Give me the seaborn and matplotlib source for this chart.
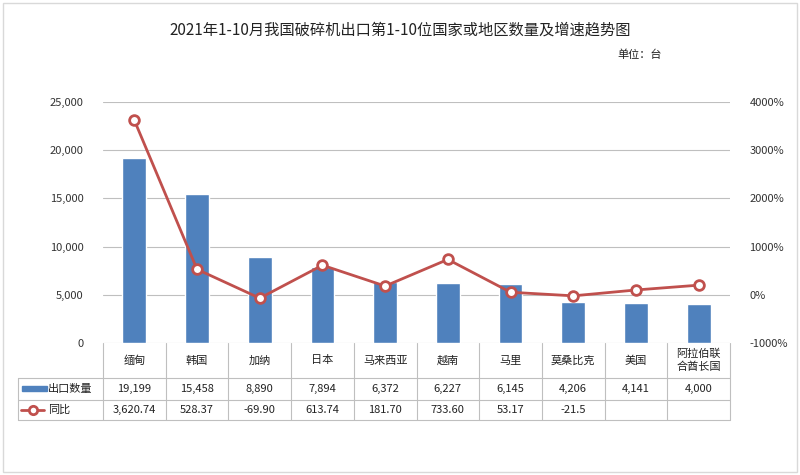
import matplotlib
matplotlib.use("Agg")
import matplotlib.pyplot as plt
import seaborn as sns
import pandas as pd
import numpy as np

countries = ["缅甸", "韩国", "加纳", "日本", "马来西亚", "越南", "马里", "莫桑比克", "美国", "阿拉伯联\n合酋长国"]
export_qty = [19199, 15458, 8890, 7894, 6372, 6227, 6145, 4206, 4141, 4000]
yoy = [3620.74, 528.37, -69.90, 613.74, 181.70, 733.60, 53.17, -21.5, 100.0, 200.0]
qty_labels = ["19,199", "15,458", "8,890", "7,894", "6,372", "6,227", "6,145", "4,206", "4,141", "4,000"]
yoy_labels = ["3,620.74", "528.37", "-69.90", "613.74", "181.70", "733.60", "53.17", "-21.5", "", ""]
left_ticks = [0, 5000, 10000, 15000, 20000, 25000]
right_ticks = [-1000, 0, 1000, 2000, 3000, 4000]

sns.set_theme(style="white")
plt.rcParams['font.family'] = ['Noto Sans CJK SC', 'DejaVu Sans']

BAR = "#4F81BD"
LINE = "#C0504D"
W, H = 800, 475
fig = plt.figure(figsize=(8, 4.75), dpi=100)

def fx(x): return x / W
def fy(y): return 1 - y / H

L, R, T, B = 103, 730, 102, 343
ax = fig.add_axes([fx(L), fy(B), fx(R) - fx(L), fy(T) - fy(B)])
df = pd.DataFrame({"c": range(len(countries)), "q": export_qty})
sns.barplot(data=df, x="c", y="q", color=BAR, width=0.38, ax=ax, saturation=1, zorder=3)
ax.set_ylim(0, 25000)
ax.set_xlim(-0.5, len(countries) - 0.5)
ax.set_yticks(left_ticks)
ax.set_yticklabels([f"{v:,}" for v in left_ticks], fontsize=8, color="#333333")
ax.set_xticks([])
ax.set_xlabel("")
ax.set_ylabel("")
ax.grid(axis="y", color="#BFBFBF", linewidth=0.8, zorder=0)
for s in ax.spines.values():
    s.set_visible(False)
ax.tick_params(axis="y", length=0, pad=14)

ax2 = ax.twinx()
sns.lineplot(x=list(range(len(countries))), y=yoy, ax=ax2, color=LINE, linewidth=2,
             marker="o", markersize=7, markerfacecolor="white", markeredgecolor=LINE,
             markeredgewidth=2, zorder=5)
ax2.set_ylim(-1000, 4000)
ax2.set_yticks(right_ticks)
ax2.set_yticklabels([f"{v}%" for v in right_ticks], fontsize=8, color="#333333")
ax2.tick_params(axis="y", length=0, pad=14)
ax2.grid(False)
for s in ax2.spines.values():
    s.set_visible(False)

# Data table
col_w = (R - L) / len(countries)
rows = [343, 378, 400, 420]
tl = 18
lc = "#BFBFBF"
def hline(y, x0, x1):
    fig.add_artist(plt.Line2D([fx(x0), fx(x1)], [fy(y), fy(y)], color=lc, lw=0.8))
def vline(x, y0, y1):
    fig.add_artist(plt.Line2D([fx(x), fx(x)], [fy(y0), fy(y1)], color=lc, lw=0.8))
hline(rows[1], tl, R)
hline(rows[2], tl, R)
hline(rows[3], tl, R)
for i in range(len(countries) + 1):
    vline(L + i * col_w, rows[0], rows[3])
vline(tl, rows[1], rows[3])
for i, c in enumerate(countries):
    cx = L + (i + 0.5) * col_w
    fig.text(fx(cx), fy((rows[0] + rows[1]) / 2), c, ha="center", va="center", fontsize=8, color="#222222", linespacing=1.3)
    fig.text(fx(cx), fy((rows[1] + rows[2]) / 2), qty_labels[i], ha="center", va="center", fontsize=8, color="#222222")
    fig.text(fx(cx), fy((rows[2] + rows[3]) / 2), yoy_labels[i], ha="center", va="center", fontsize=8, color="#222222")

# legend keys in table
fig.add_artist(plt.Rectangle((fx(22), fy(391)), fx(25), fy(386) - fy(391), color=BAR))
fig.text(fx(48), fy(389), "出口数量", ha="left", va="center", fontsize=8, color="#222222")
fig.add_artist(plt.Line2D([fx(21), fx(44)], [fy(410), fy(410)], color=LINE, lw=2))
fig.add_artist(plt.Line2D([fx(32.5)], [fy(410)], marker="o", markersize=6, markerfacecolor="white",
                          markeredgecolor=LINE, markeredgewidth=2))
fig.text(fx(48), fy(410), "同比", ha="left", va="center", fontsize=8, color="#222222")

# titles
fig.text(0.5, fy(30), "2021年1-10月我国破碎机出口第1-10位国家或地区数量及增速趋势图",
         ha="center", va="center", fontsize=11, color="#222222")
fig.text(fx(640), fy(55), "单位：台", ha="center", va="center", fontsize=8, color="#222222")

# outer chart border
fig.add_artist(plt.Rectangle((fx(3), fy(472)), fx(794), fy(3) - fy(472), fill=False, edgecolor="#D9D9D9", lw=1))

fig.savefig("out.png", dpi=100, facecolor="white")
